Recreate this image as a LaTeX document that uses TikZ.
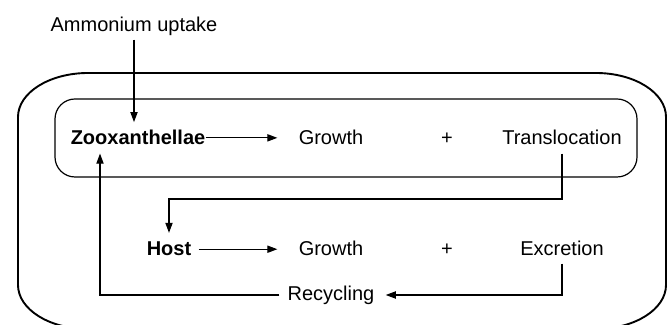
\documentclass[tikz,border=0pt]{standalone}
\usepackage{fontspec}
\setmainfont{Liberation Sans}
\usetikzlibrary{arrows.meta,calc}
\begin{document}
\begin{tikzpicture}[x=0.5pt,y=-0.5pt,
  lbl/.style={inner sep=0pt,anchor=base,font=\fontsize{10}{12}\selectfont},
  blbl/.style={lbl,font=\fontsize{10}{12}\selectfont\bfseries},
  conn/.style={line width=0.55pt},
  arr/.style={conn,-{Triangle[length=5pt,width=3.6pt]}},
  innerbox/.style={draw,line width=0.6pt,rounded corners=10pt},
  outerbox/.style={draw,line width=0.95pt}]
\useasboundingbox (0,0) rectangle (669,325);
\clip (0,0) rectangle (669,325);
% outer box
\draw[outerbox] (88,73) -- (596,73) .. controls (634.6,73) and (666,92.7) .. (666,117)
  -- (666,285) .. controls (666,309.3) and (634.6,329) .. (596,329)
  -- (88,329) .. controls (49.4,329) and (18,309.3) .. (18,285)
  -- (18,117) .. controls (18,92.7) and (49.4,73) .. (88,73) -- cycle;
% inner box
\draw[innerbox] (55,99) rectangle (637,177);
% texts
\node[lbl] (amm) at (134,32) {Ammonium uptake};
\node[blbl] (zoo) at (138,145) {Zooxanthellae};
\node[lbl] (g1) at (331,145) {Growth};
\node[lbl] (p1) at (447,145) {+};
\node[lbl] (tr) at (562,145) {Translocation};
\node[blbl] (host) at (169,256) {Host};
\node[lbl] (g2) at (331,256) {Growth};
\node[lbl] (p2) at (447,256) {+};
\node[lbl] (ex) at (562,256) {Excretion};
\node[lbl] (rec) at (331,301) {Recycling};
% helper coordinates
\coordinate (tjoin) at (0,199);
\coordinate (rjoin) at (0,295);
\coordinate (rleft) at (100,0);
% connectors
\draw[arr,shorten <=1.5pt,shorten >=4pt] (amm.south) -- (amm.south |- zoo.north);
\draw[arr] (zoo.east) -- ($(zoo.east -| g1.west)+(-21,0)$);
\draw[arr] ($(host.east)+(7,0)$) -- ($(host.east -| g2.west)+(-21,0)$);
\draw[arr,shorten >=4.5pt] ($(tr.south)+(0,8)$) |- (tjoin -| host.north) -- (host.north);
\draw[arr,shorten >=5.5pt] ($(ex.south)+(0,7)$) |- (rjoin -| rec.east);
\draw[arr,shorten <=4pt,shorten >=4pt] (rjoin -| rec.west) -| (rleft |- zoo.south);
\end{tikzpicture}
\end{document}
